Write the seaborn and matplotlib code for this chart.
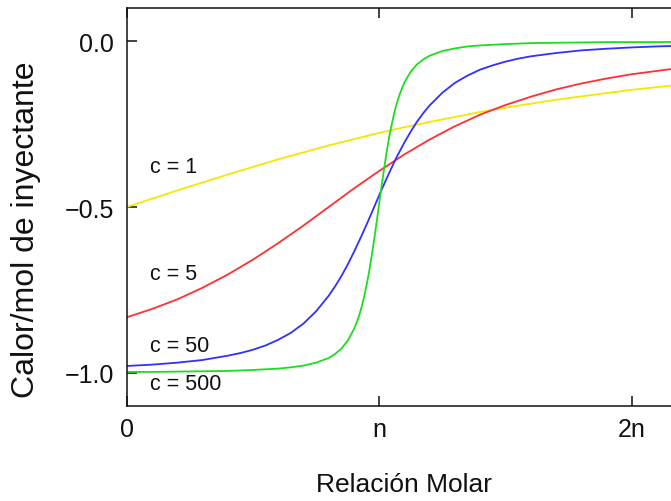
import matplotlib
matplotlib.use("Agg")
import matplotlib.pyplot as plt
import seaborn as sns
import pandas as pd

# molar ratio (in units of n)
x_c1 = [0.0, 0.1, 0.2, 0.3, 0.4, 0.5, 0.6, 0.7, 0.8, 0.9, 1.0,
        1.1, 1.2, 1.3, 1.4, 1.5, 1.6, 1.7, 1.8, 1.9, 2.0, 2.2]
x_c5 = x_c1
x_c50 = [0.0, 0.1, 0.2, 0.3, 0.4, 0.45, 0.5, 0.55, 0.6, 0.65, 0.7, 0.75,
         0.8, 0.825, 0.85, 0.875, 0.9, 0.93, 0.95, 0.97, 0.99, 1.01, 1.03,
         1.05, 1.07, 1.1, 1.125, 1.15, 1.175, 1.2, 1.25, 1.3, 1.35, 1.4,
         1.45, 1.5, 1.55, 1.6, 1.7, 1.8, 1.9, 2.0, 2.1, 2.2]
x_c500 = [0.0, 0.1, 0.2, 0.3, 0.4, 0.5, 0.6, 0.65, 0.7, 0.75, 0.8, 0.825,
          0.85, 0.875, 0.9, 0.91, 0.92, 0.93, 0.94, 0.95, 0.96, 0.97, 0.98,
          0.99, 1.0, 1.01, 1.02, 1.03, 1.04, 1.05, 1.06, 1.07, 1.08, 1.09,
          1.1, 1.125, 1.15, 1.175, 1.2, 1.25, 1.3, 1.35, 1.4, 1.5, 1.6,
          1.7, 1.8, 1.9, 2.0, 2.1, 2.2]

# heat per mol of injectant
y_c1 = [-0.500, -0.475, -0.450, -0.426, -0.402, -0.379, -0.356, -0.335,
        -0.314, -0.295, -0.276, -0.259, -0.243, -0.228, -0.213, -0.200,
        -0.188, -0.176, -0.166, -0.156, -0.146, -0.130]
y_c5 = [-0.833, -0.808, -0.779, -0.744, -0.704, -0.659, -0.609, -0.556,
        -0.500, -0.444, -0.391, -0.341, -0.296, -0.256, -0.221, -0.192,
        -0.167, -0.145, -0.127, -0.112, -0.099, -0.079]
y_c50 = [-0.980, -0.976, -0.970, -0.962, -0.949, -0.941, -0.931, -0.918,
         -0.901, -0.880, -0.852, -0.815, -0.768, -0.740, -0.709, -0.674,
         -0.636, -0.587, -0.553, -0.518, -0.482, -0.447, -0.413, -0.380,
         -0.348, -0.305, -0.272, -0.242, -0.216, -0.193, -0.155, -0.125,
         -0.103, -0.085, -0.072, -0.061, -0.052, -0.045, -0.035, -0.027,
         -0.022, -0.018, -0.015, -0.013]
y_c500 = [-0.998, -0.998, -0.997, -0.996, -0.995, -0.992, -0.988, -0.984,
          -0.979, -0.970, -0.956, -0.944, -0.928, -0.904, -0.869, -0.851,
          -0.829, -0.803, -0.772, -0.736, -0.696, -0.649, -0.599, -0.545,
          -0.489, -0.434, -0.381, -0.332, -0.287, -0.249, -0.215, -0.186,
          -0.162, -0.142, -0.124, -0.091, -0.069, -0.054, -0.043, -0.029,
          -0.021, -0.015, -0.012, -0.008, -0.005, -0.004, -0.003, -0.002,
          -0.002, -0.002, -0.001]

labels = ["c = 1", "c = 5", "c = 50", "c = 500"]
label_y = [-0.378, -0.701, -0.918, -1.033]
colors = ["#f5e800", "#ff3030", "#3030ff", "#1edc1e"]

xtick_pos = [0, 1, 2]
xtick_labels = ["0", "n", "2n"]
ytick_pos = [-1.0, -0.5, 0.0]
ytick_labels = ["\u22121.0", "\u22120.5", "0.0"]

sns.set_theme(style="ticks")
plt.rcParams["font.family"] = ["Liberation Sans", "DejaVu Sans"]

df = pd.concat([
    pd.DataFrame({"x": x_c1, "y": y_c1, "c": labels[0]}),
    pd.DataFrame({"x": x_c5, "y": y_c5, "c": labels[1]}),
    pd.DataFrame({"x": x_c50, "y": y_c50, "c": labels[2]}),
    pd.DataFrame({"x": x_c500, "y": y_c500, "c": labels[3]}),
], ignore_index=True)

fig = plt.figure(figsize=(6.71, 5.02), dpi=100)
ax = fig.add_axes([0.1888, 0.1898, 0.8279, 0.7916])

sns.lineplot(data=df, x="x", y="y", hue="c", palette=colors, sort=False,
             estimator=None, legend=False, linewidth=1.3, ax=ax)

for lab, ly in zip(labels, label_y):
    ax.text(0.092, ly, lab, ha="left", va="center", fontsize=15.5,
            color="#111111")

ax.set_xlim(0, 2.2)
ax.set_ylim(-1.1, 0.1)
ax.set_xticks(xtick_pos)
ax.set_xticklabels(xtick_labels)
ax.set_yticks(ytick_pos)
ax.set_yticklabels(ytick_labels)
ax.tick_params(axis="both", direction="in", length=7, width=1.1,
               labelsize=18, top=True, right=True, colors="#111111")
ax.tick_params(axis="x", pad=8)
ax.tick_params(axis="y", pad=9)
for sp in ax.spines.values():
    sp.set_linewidth(1.1)
    sp.set_color("#111111")

ax.set_xlabel("Relación Molar", fontsize=19, color="#111111")
ax.set_ylabel("Calor/mol de inyectante", fontsize=23, color="#111111")
ax.xaxis.set_label_coords(0.5, -0.167)
ax.yaxis.set_label_coords(-0.154, 0.445)

fig.savefig("out.png", dpi=100)
